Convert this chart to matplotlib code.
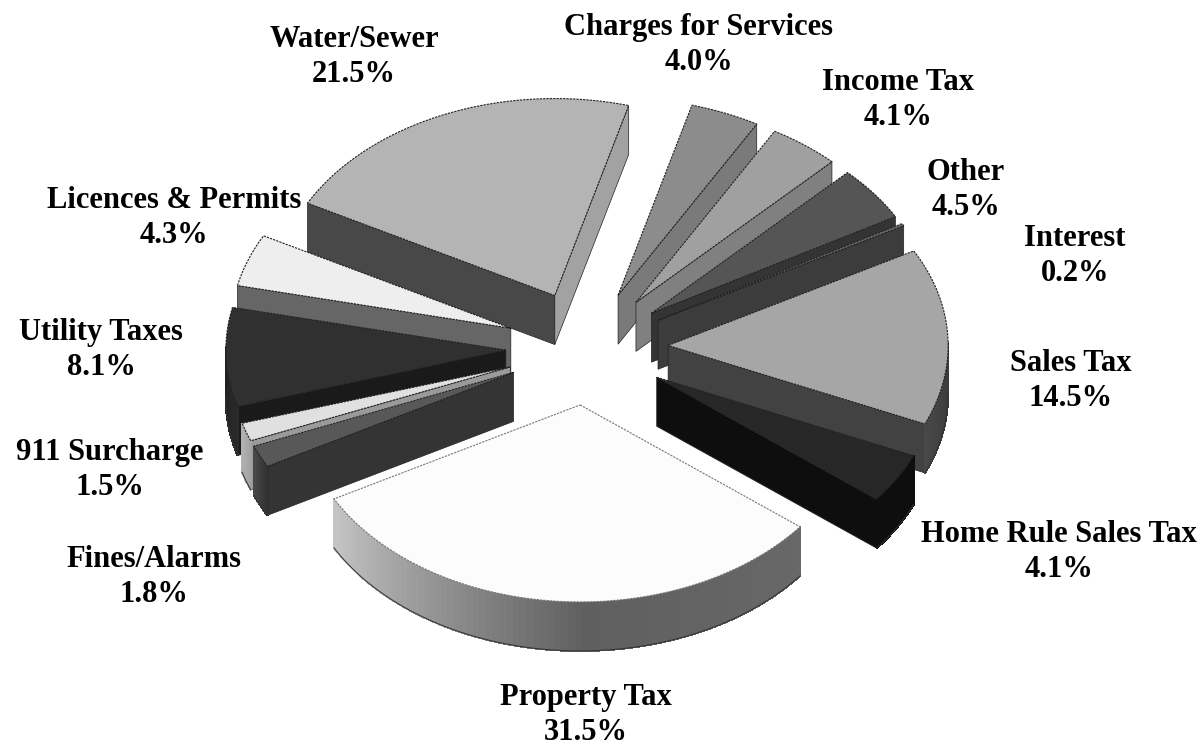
import numpy as np
import matplotlib
matplotlib.use("Agg")
import matplotlib.pyplot as plt
from matplotlib.colors import to_rgb
from matplotlib.patches import Polygon

# Revenue shares, clockwise from the top of the pie
categories = ["Charges for Services", "Income Tax", "Other", "Interest", "Sales Tax",
              "Home Rule Sales Tax", "Property Tax", "Fines/Alarms", "911 Surcharge",
              "Utility Taxes", "Licences & Permits", "Water/Sewer"]
shares = [4.0, 4.1, 4.5, 0.2, 14.5, 4.1, 31.5, 1.8, 1.5, 8.1, 4.3, 21.5]

# Greys for the top, the two cut sides and the outer rim (three stops along the arc)
top_grey = ["#8c8c8c", "#a0a0a0", "#555555", "#6a6a6a", "#a6a6a6", "#272727",
            "#fcfcfc", "#585858", "#e0e0e0", "#303030", "#eeeeee", "#b4b4b4"]
side_grey = ["#7a7a7a", "#808080", "#343434", "#3c3c3c", "#424242", "#0e0e0e",
             "#606060", "#343434", "#9a9a9a", "#1a1a1a", "#666666", "#484848"]
side_grey2 = ["#7a7a7a", "#808080", "#343434", "#3c3c3c", "#424242", "#0e0e0e",
              "#606060", "#343434", "#9a9a9a", "#1a1a1a", "#666666", "#a2a2a2"]
rim_grey = [("#666666",) * 3] * 4 + [("#3a3a3a", "#3e3e3e", "#484848"), ("#0e0e0e",) * 3,
            ("#686868", "#5f5f5f", "#c4c4c4"), ("#303030", "#3a3a3a", "#484848"),
            ("#a0a0a0", "#a8a8a8", "#b0b0b0"), ("#2a2a2a", "#262626", "#202020"),
            ("#666666",) * 3, ("#666666",) * 3]

label_xy = [(699, 45), (898, 100), (966, 190), (1075, 256), (1071, 381), (1059, 552),
            (586, 715), (154, 577), (110, 470), (101, 350), (174, 218), (354, 57)]

CX, CY = 587, 348
RX, RY = 280, 197
DEPTH = 49
EXPLODE = 0.29
START = 15.3


def to_xy(theta, r=1.0, ox=0.0, oy=0.0):
    t = np.radians(theta)
    return ox + r * RX * np.sin(t), oy - r * RY * np.cos(t)


def rim_colour(stops, f):
    rgb = np.array([to_rgb(c) for c in stops])
    return tuple(np.interp(f, [0, 0.45, 1], rgb[:, k]) for k in range(3))


fig = plt.figure(figsize=(12.03, 7.45), dpi=100)
ax = fig.add_axes([0, 0, 1, 1])
ax.set_xlim(0, 1203)
ax.set_ylim(745, 0)
ax.axis("off")

total = sum(shares)
edges = START + np.cumsum([0] + shares) / total * 360
mids = (edges[:-1] + edges[1:]) / 2

# back slices first so the front ones cover them
for i in np.argsort(-np.cos(np.radians(mids))):
    t1, t2 = edges[i], edges[i + 1]
    ox, oy = to_xy(mids[i], EXPLODE, CX, CY)

    thetas = np.linspace(t1, t2, 80)
    arc_x, arc_y = to_xy(thetas, 1.0, ox, oy)

    # cut faces
    for t, col, sign in [(t1, side_grey[i], -1), (t2, side_grey2[i], 1)]:
        if sign * np.sin(np.radians(t)) > 0:
            ex, ey = to_xy(t, 1.0, ox, oy)
            ax.add_patch(Polygon([(ox, oy), (ex, ey), (ex, ey + DEPTH), (ox, oy + DEPTH)],
                                 fc=col, ec="#222222", lw=0.5))

    # outer rim, only the part that faces the viewer
    vis = np.where(np.cos(np.radians(thetas)) < 0.02)[0]
    for j in vis[:-1]:
        f = (j - vis[0]) / max(len(vis) - 2, 1)
        col = rim_colour(rim_grey[i], f)
        ax.add_patch(Polygon([(arc_x[j], arc_y[j]), (arc_x[j + 1], arc_y[j + 1]),
                              (arc_x[j + 1], arc_y[j + 1] + DEPTH), (arc_x[j], arc_y[j] + DEPTH)],
                             fc=col, ec=col, lw=0.8, antialiased=False))
    if len(vis) > 1:
        ax.plot(arc_x[vis], arc_y[vis] + DEPTH, color="#333333", lw=0.7)

    # top face
    px = np.r_[ox, arc_x, ox]
    py = np.r_[oy, arc_y, oy]
    ax.fill(px, py, color=top_grey[i], lw=0)
    edge = "#777777" if shares[i] > 30 else "#222222"
    ax.plot(px, py, color=edge, lw=0.8, ls=(0, (2, 1)))

for name, val, (x, y) in zip(categories, shares, label_xy):
    ax.text(x, y, f"{name}\n{val:.1f}%", ha="center", va="center", fontsize=22,
            fontweight="bold", family="Liberation Serif", linespacing=1.25, color="black")

fig.savefig("out.png", dpi=100)
